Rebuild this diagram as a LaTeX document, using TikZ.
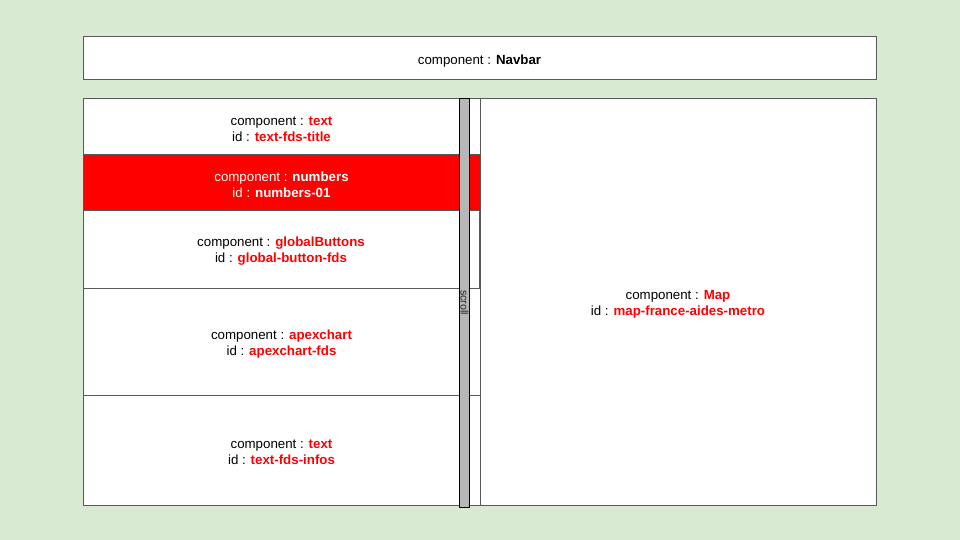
\documentclass[tikz,border=0pt]{standalone}
\usepackage{fontspec}
\setmainfont{Liberation Sans}
\usetikzlibrary{positioning}
\definecolor{bggreen}{HTML}{D9EAD3}
\definecolor{edgegray}{HTML}{595959}
\definecolor{idred}{HTML}{FF0000}
\definecolor{scrollgray}{HTML}{B7B7B7}
\tikzset{
	block/.style={draw=edgegray, line width=1pt, fill=white, inner sep=0pt},
	redblock/.style={block, fill=idred},
	blocktext/.style={inner sep=0pt, align=center, yshift=-2.5pt,
		font=\fontsize{13.3}{16}\selectfont},
	scrollbar/.style={draw=black, line width=1pt, fill=scrollgray, inner sep=0pt,
		minimum width=10pt, minimum height=408pt},
}
\newcommand{\comp}[2]{component : \textbf{\color{idred}#1}\\id : \textbf{\color{idred}#2}}

\begin{document}
\begin{tikzpicture}[x=1pt,y=-1pt]
		\useasboundingbox[fill=bggreen] (0,0) rectangle (960,540);
		\node[block, minimum width=793pt, minimum height=43pt,
			label={[blocktext]center:component : \textbf{Navbar}}] (navbar) at (479.5,58.5) {};
		
		\node[block, minimum width=397pt, minimum height=56pt,
			label={[blocktext]center:{\comp{text}{text-fds-title}}}] (title) at (281.5,127) {};
		\node[redblock, minimum width=397pt, minimum height=55pt,
			label={[blocktext, text=white]center:{component : \textbf{numbers}\\id : \textbf{numbers-01}}}] (numbers) at (281.5,182.5) {};
		\node[block, minimum width=396pt, minimum height=78pt,
			label={[blocktext]center:{\comp{globalButtons}{global-button-fds}}}] (buttons) at (281,249) {};
		\node[block, minimum width=397pt, minimum height=107pt,
			label={[blocktext]center:{\comp{apexchart}{apexchart-fds}}}] (chart) at (281.5,341.5) {};
		\node[block, minimum width=397pt, minimum height=110pt,
			label={[blocktext]center:{\comp{text}{text-fds-infos}}}] (infos) at (281.5,450) {};
		
		\node[block, minimum width=396pt, minimum height=406pt,
			label={[blocktext]center:{\comp{Map}{map-france-aides-metro}}}] (map) at (678,302) {};
		
		\node[scrollbar] (scroll) at (464.5,303) {};
		\node[rotate=-90, inner sep=0pt, text=black!85, font=\fontsize{10.7}{12}\selectfont] (scrolllabel) at (464.5,302.5) {scroll};
		
	\end{tikzpicture}
\end{document}
